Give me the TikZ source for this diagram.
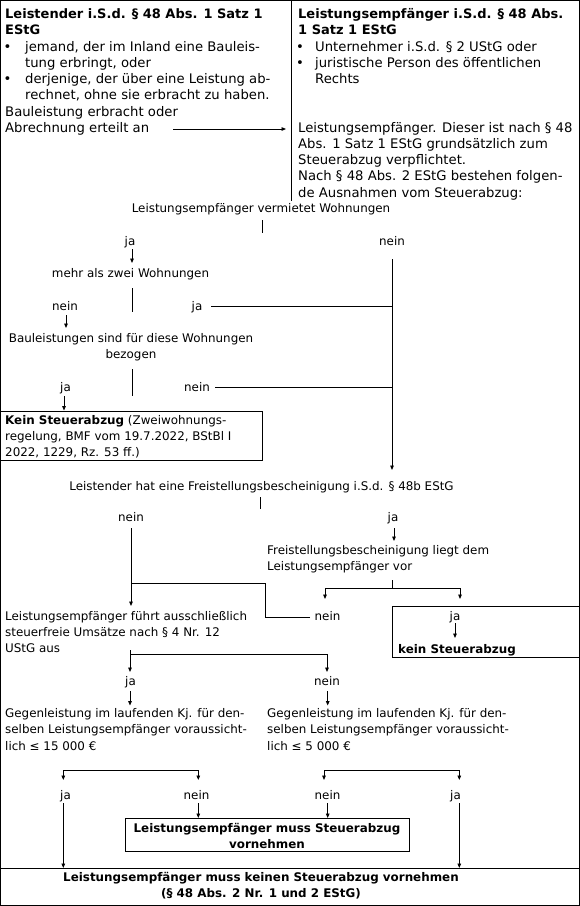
\documentclass[tikz,border=0pt]{standalone}
\usepackage{fontspec}
\setmainfont{DejaVu Sans}
\usetikzlibrary{arrows.meta}
\begin{document}
\begin{tikzpicture}[x=1pt,y=-1pt,
  txt/.style={inner sep=0pt, anchor=base west, align=left, font=\fontsize{11.9}{16.2}\selectfont},
  ctxt/.style={inner sep=0pt, anchor=base, align=center, font=\fontsize{11.9}{16.2}\selectfont},
  bold/.style={font=\fontsize{11.9}{16.2}\selectfont\bfseries},
  toptxt/.style={inner sep=0pt, anchor=base west, align=left, font=\fontsize{13.2}{16.2}\selectfont},
  topbul/.style={inner sep=0pt, anchor=base, font=\fontsize{13.2}{16.2}\selectfont},
  topbold/.style={inner sep=0pt, anchor=base west, align=left, font=\fontsize{13}{16.2}\selectfont\bfseries},
  ln/.style={line width=0.9pt},
  arr/.style={line width=0.9pt, -{Triangle[length=4.5pt,width=3.6pt]}},
  frame/.style={draw, line width=0.9pt}
]
\useasboundingbox (0,0) rectangle (580,906);
% outer frame and top divider
\draw[frame] (0.45,0.45) rectangle (579.5,905.5);
\coordinate (divT) at (291,0.45);
\coordinate (divB) at (291,201);
\draw[ln] (divT) -- (divB);

% ---------- top left cell (multi-line nodes: base = baseline of last line)
\node[topbold] (lh) at (5,34.5) {Leistender i.S.d. § 48 Abs. 1 Satz 1\\EStG};
\node[topbul] (lb1) at (7.5,51.3) {•};
\node[toptxt] (lt1) at (25,67.5) {jemand, der im Inland eine Bauleis-\\tung erbringt, oder};
\node[topbul] (lb2) at (7.5,83.7) {•};
\node[toptxt] (lt2) at (25,99.9) {derjenige, der über eine Leistung ab-\\rechnet, ohne sie erbracht zu haben.};
\node[toptxt] (bau) at (5,132.3) {Bauleistung erbracht oder\\Abrechnung erteilt an};
\coordinate (bauA) at (173,129);
\coordinate (bauB) at (286,129);
\draw[arr] (bauA) -- (bauB);

% ---------- top right cell
\node[topbold] (rh) at (298,34.5) {Leistungsempfänger i.S.d. § 48 Abs.\\1 Satz 1 EStG};
\node[topbul] (rb1) at (300,51.3) {•};
\node[toptxt] (rt1) at (315,51.3) {Unternehmer i.S.d. § 2 UStG oder};
\node[topbul] (rb2) at (300,67.5) {•};
\node[toptxt] (rt2) at (315,83.7) {juristische Person des öffentlichen\\Rechts};
\node[toptxt] (rt3) at (298,197.1) {Leistungsempfänger. Dieser ist nach § 48\\Abs. 1 Satz 1 EStG grundsätzlich zum\\Steuerabzug verpflichtet.\\Nach § 48 Abs. 2 EStG bestehen folgen-\\de Ausnahmen vom Steuerabzug:};

% ---------- Wohnungen
\node[ctxt] (q1) at (261,212.6) {Leistungsempfänger vermietet Wohnungen};
\coordinate (t1a) at (262,220); \coordinate (t1b) at (262,233);
\draw[ln] (t1a) -- (t1b);
\node[ctxt] (j1) at (130,245) {ja};
\node[ctxt] (n1) at (392,245) {nein};
\coordinate (j1a) at (132,249); \coordinate (j1b) at (132,263);
\draw[arr] (j1a) -- (j1b);
\node[ctxt] (q2) at (130.5,277.6) {mehr als zwei Wohnungen};
\coordinate (t2a) at (132,288); \coordinate (t2b) at (132,312);
\draw[ln] (t2a) -- (t2b);
\node[ctxt] (n2) at (65,310.3) {nein};
\node[ctxt] (j2) at (197,310.3) {ja};
\coordinate (j2a) at (211,306); \coordinate (rv2) at (392,306);
\draw[ln] (j2a) -- (rv2);
\coordinate (n2a) at (66,315); \coordinate (n2b) at (66,328);
\draw[arr] (n2a) -- (n2b);
\node[ctxt] (q3) at (131,358.2) {Bauleistungen sind für diese Wohnungen\\bezogen};
\coordinate (t3a) at (132,369); \coordinate (t3b) at (132,396);
\draw[ln] (t3a) -- (t3b);
\node[ctxt] (j3) at (65.5,391) {ja};
\node[ctxt] (n3) at (197,391) {nein};
\coordinate (n3a) at (215,387); \coordinate (rv3) at (392,387);
\draw[ln] (n3a) -- (rv3);
\coordinate (j3a) at (64,396); \coordinate (j3b) at (64,410.5);
\draw[arr] (j3a) -- (j3b);
\coordinate (rvT) at (392,259); \coordinate (rvB) at (392,470);
\draw[arr] (rvT) -- (rvB);
\coordinate (kbA) at (0.45,411); \coordinate (kbB) at (262,460);
\draw[frame] (kbA) rectangle (kbB);
\node[txt] (k1) at (5,456.7) {\textbf{Kein Steuerabzug} (Zweiwohnungs-\\regelung, BMF vom 19.7.2022, BStBl I\\2022, 1229, Rz. 53 ff.)};

% ---------- Freistellung
\node[ctxt] (q4) at (261.5,490.3) {Leistender hat eine Freistellungsbescheinigung i.S.d. § 48b EStG};
\coordinate (t4a) at (260,497); \coordinate (t4b) at (260,509);
\draw[ln] (t4a) -- (t4b);
\node[ctxt] (n4) at (131,521.6) {nein};
\node[ctxt] (j4) at (393,521.6) {ja};
\coordinate (n4a) at (131,528); \coordinate (n4b) at (131,606);
\draw[arr] (n4a) -- (n4b);
\coordinate (j4a) at (394,528); \coordinate (j4b) at (394,541);
\draw[arr] (j4a) -- (j4b);
\node[txt] (q5) at (267,570.5) {Freistellungsbescheinigung liegt dem\\Leistungsempfänger vor};
\coordinate (t5a) at (392,580); \coordinate (t5b) at (392,588.3);
\coordinate (t5l) at (325,599); \coordinate (t5r) at (460,599);
\draw[ln] (t5a) -- (t5b);
\draw[arr] (t5b) -| (t5l);
\draw[arr] (t5b) -| (t5r);
\node[ctxt] (n5) at (327.5,620.3) {nein};
\node[ctxt] (j5) at (455,620.3) {ja};
\coordinate (n5a) at (310,617); \coordinate (n5b) at (265,617);
\coordinate (n5c) at (265,583.3); \coordinate (n5d) at (131,583.3);
\draw[ln] (n5a) -- (n5b) -- (n5c) -- (n5d);
\coordinate (kcA) at (392,606); \coordinate (kcB) at (579.5,657);
\draw[frame] (kcA) rectangle (kcB);
\coordinate (j5a) at (455,623.3); \coordinate (j5b) at (455,638);
\draw[arr] (j5a) -- (j5b);
\node[ctxt,bold] (k2) at (457,653.3) {kein Steuerabzug};

% ---------- steuerfreie Umsaetze
\node[txt] (q6) at (5,652.7) {Leistungsempfänger führt ausschließlich\\steuerfreie Umsätze nach § 4 Nr. 12\\UStG aus};
\coordinate (t6a) at (130,650); \coordinate (t6b) at (130,654.3);
\coordinate (t6l) at (130,672); \coordinate (t6r) at (327,672);
\draw[arr] (t6a) -- (t6l);
\draw[arr] (t6b) -| (t6r);
\node[ctxt] (j6) at (130.5,685.3) {ja};
\node[ctxt] (n6) at (327,685.3) {nein};
\coordinate (j6a) at (130,691); \coordinate (j6b) at (130,705.5);
\coordinate (n6a) at (327.7,691); \coordinate (n6b) at (327.7,705.5);
\draw[arr] (j6a) -- (j6b);
\draw[arr] (n6a) -- (n6b);
\node[txt] (g1) at (5,750) {Gegenleistung im laufenden Kj. für den-\\selben Leistungsempfänger voraussicht-\\lich ≤ 15 000 €};
\node[txt] (g2) at (267,750) {Gegenleistung im laufenden Kj. für den-\\selben Leistungsempfänger voraussicht-\\lich ≤ 5 000 €};

% ---------- brackets
\coordinate (b1m) at (130,770); \coordinate (b1l) at (63.3,780); \coordinate (b1r) at (198.3,780);
\draw[arr] (b1m) -| (b1l);
\draw[arr] (b1m) -| (b1r);
\coordinate (b2m) at (390,770); \coordinate (b2l) at (324,780); \coordinate (b2r) at (459.3,780);
\draw[arr] (b2m) -| (b2l);
\draw[arr] (b2m) -| (b2r);
\node[ctxt] (j7) at (65.5,799.3) {ja};
\node[ctxt] (n7) at (196.5,799.3) {nein};
\node[ctxt] (n8) at (327.5,799.3) {nein};
\node[ctxt] (j8) at (455.5,799.3) {ja};
\coordinate (n7a) at (198.3,803.3); \coordinate (n7b) at (198.3,818);
\coordinate (n8a) at (327.7,803.3); \coordinate (n8b) at (327.7,818);
\draw[arr] (n7a) -- (n7b);
\draw[arr] (n8a) -- (n8b);
\coordinate (j7a) at (63.3,803.3); \coordinate (j7b) at (63.3,868);
\coordinate (j8a) at (459.3,803.3); \coordinate (j8b) at (459.3,868);
\draw[arr] (j7a) -- (j7b);
\draw[arr] (j8a) -- (j8b);
\coordinate (mbA) at (125,818.3); \coordinate (mbB) at (409.3,851.7);
\draw[frame] (mbA) rectangle (mbB);
\node[ctxt,bold] (m1) at (267,848.4) {Leistungsempfänger muss Steuerabzug\\vornehmen};
\coordinate (botL) at (0.45,868.3); \coordinate (botR) at (579.5,868.3);
\draw[ln] (botL) -- (botR);
\node[ctxt,bold] (m2) at (261,897.8) {Leistungsempfänger muss keinen Steuerabzug vornehmen\\(§ 48 Abs. 2 Nr. 1 und 2 EStG)};
\end{tikzpicture}
\end{document}
